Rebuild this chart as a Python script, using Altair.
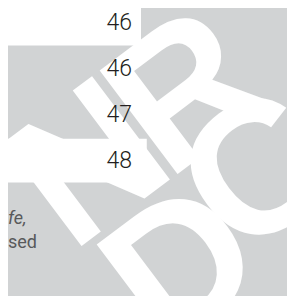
import altair as alt
import pandas as pd

# ---- data ----
rows = ["a", "b", "c", "d"]
row_index = [0, 1, 2, 3]
values = [46, 46, 47, 48]
shaded = ["white", "none", "none", "white"]

notes = ["fe,", "sed"]
note_style = ["italic", "normal"]

logo_letters = ["N", "R", "D", "C"]

BG = "#d1d3d4"

df = pd.DataFrame({"row": rows, "idx": row_index, "value": values, "fill": shaded})

yscale = alt.Scale(domain=[-0.339, 5.963], reverse=True)
xscale = alt.Scale(domain=[0, 96.5])

base = alt.Chart(df)

bars = base.transform_filter(alt.datum.fill == "white").transform_calculate(
    y0="datum.idx - 0.48", y1="datum.idx + 0.48"
).mark_bar(color="white", clip=True).encode(
    x=alt.X("value:Q", scale=xscale, axis=None),
    x2=alt.datum(0),
    y=alt.Y("y0:Q", scale=yscale, axis=None),
    y2="y1:Q",
)

# watermark logo, one letter at a time (rotated 37 degrees counter-clockwise)
logo = alt.layer(
    *[
        alt.Chart(pd.DataFrame({"t": [t]})).mark_text(
            font="Liberation Sans", fontWeight="bold", fontSize=188, color="white",
            angle=323, align="center", baseline="middle",
        ).encode(text="t:N", x=alt.value(xv), y=alt.value(yv))
        for t, xv, yv in zip(logo_letters, [84, 180, 177, 253], [160, 88, 262, 168])
    ]
)

labels = base.mark_text(
    font="Roboto", fontSize=23, fontWeight=300, color="#231f20",
    align="right", baseline="middle",
).encode(
    x=alt.value(124),
    y=alt.Y("idx:Q", scale=yscale, axis=None),
    text="value:Q",
)

notes_layer = alt.layer(
    *[
        alt.Chart(pd.DataFrame({"t": [t]})).mark_text(
            font="Roboto", fontSize=18, color="#58595b",
            fontStyle=st, align="left", baseline="alphabetic",
        ).encode(text="t:N", x=alt.value(xv), y=alt.value(yv))
        for t, st, xv, yv in zip(notes, note_style, [0, 0], [216, 240])
    ]
)

chart = alt.layer(bars, logo, labels, notes_layer).properties(
    width=279, height=288, padding=0,
    autosize=alt.AutoSizeParams(type="none"),
    background=BG,
).configure_view(stroke=None, fill=BG)

chart.save("out.html", embed_options={"renderer": "svg", "actions": False})
